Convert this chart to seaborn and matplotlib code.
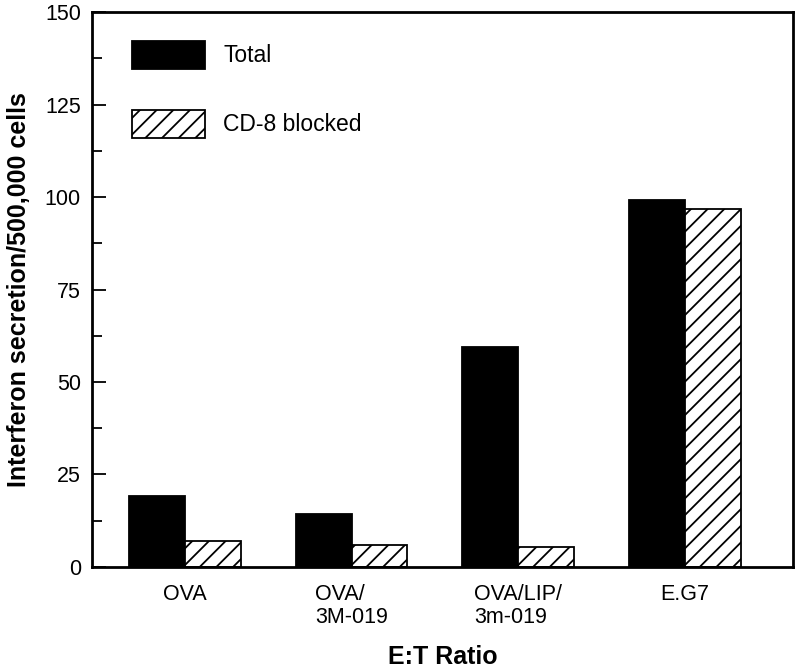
import matplotlib
matplotlib.use("Agg")
import matplotlib.pyplot as plt
import matplotlib.patches as mpatches
from matplotlib.ticker import MultipleLocator
import seaborn as sns
import pandas as pd

# values
groups = ["OVA", "OVA/\n3M-019", "OVA/LIP/\n3m-019", "E.G7"]
total = [19.2, 14.3, 59.5, 99.2]
cd8_blocked = [7.0, 5.9, 5.4, 96.8]
series = ["Total", "CD-8 blocked"]

df = pd.DataFrame({
    "group": groups * 2,
    "value": total + cd8_blocked,
    "series": [series[0]] * len(groups) + [series[1]] * len(groups),
})

sns.set_theme(style="ticks")
plt.rcParams["font.family"] = ["Liberation Sans", "DejaVu Sans"]
plt.rcParams["hatch.linewidth"] = 1.3
plt.rcParams["text.color"] = "black"
plt.rcParams["axes.labelcolor"] = "black"
plt.rcParams["xtick.color"] = "black"
plt.rcParams["ytick.color"] = "black"

fig = plt.figure(figsize=(7.96, 6.69), dpi=100)
ax = fig.add_axes([0.1156, 0.1525, 0.8804, 0.8295])

sns.barplot(data=df, x="group", y="value", hue="series", order=groups,
            hue_order=series, palette=["black", "white"], width=0.67,
            edgecolor="black", linewidth=1.3, saturation=1, ax=ax, legend=False)

# hatch the CD-8 blocked bars
for bar in ax.containers[1]:
    bar.set_hatch("//")

ax.set_xlim(-0.557, 3.647)
ax.set_ylim(0, 150)
ax.yaxis.set_major_locator(MultipleLocator(25))
ax.yaxis.set_minor_locator(MultipleLocator(12.5))
ax.tick_params(axis="y", which="major", direction="in", length=10, width=1.3,
               labelsize=15.5, pad=8)
ax.tick_params(axis="y", which="minor", direction="in", length=7, width=1.3)
ax.tick_params(axis="x", length=0, labelsize=15.5, pad=12)
for lbl in ax.get_xticklabels():
    lbl.set_multialignment("left")
    lbl.set_linespacing(1.15)

for side in ["top", "right", "left", "bottom"]:
    ax.spines[side].set_visible(True)
    ax.spines[side].set_linewidth(2)
    ax.spines[side].set_color("black")

ax.set_xlabel("E:T Ratio", fontsize=18, fontweight="bold", labelpad=12)
ax.set_ylabel("Interferon secretion/500,000 cells", fontsize=18,
              fontweight="bold", labelpad=10)

handles = [
    mpatches.Patch(facecolor="black", edgecolor="black", linewidth=1.3),
    mpatches.Patch(facecolor="white", edgecolor="black", linewidth=1.3, hatch="//"),
]
ax.legend(handles, series, loc="upper left", bbox_to_anchor=(0.057, 0.948),
          frameon=False, borderpad=0, borderaxespad=0, fontsize=16.5,
          handlelength=3.2, handleheight=1.5, labelspacing=1.78,
          handletextpad=0.78)

fig.savefig("out.png", dpi=100)
